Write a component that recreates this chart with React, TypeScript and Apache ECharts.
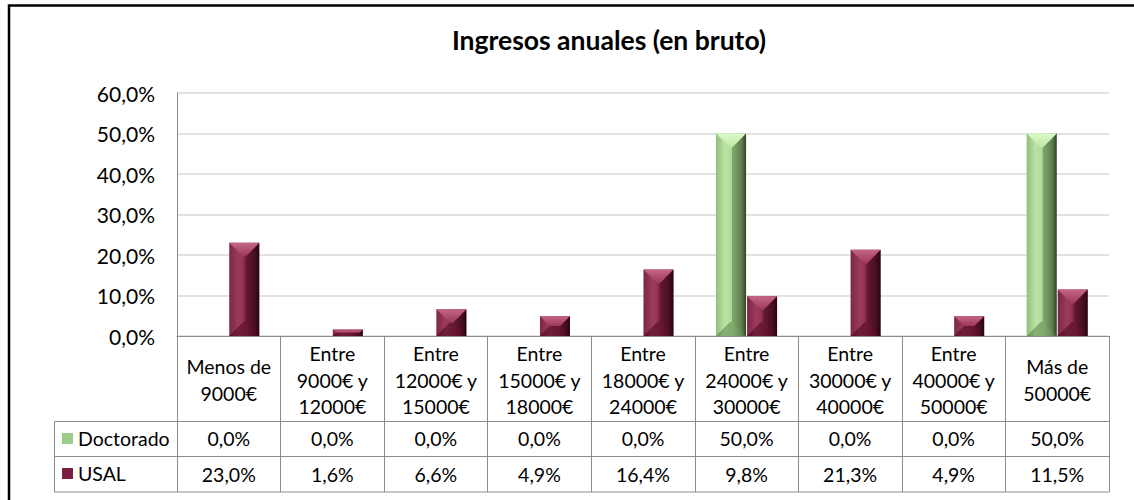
import React, { useEffect, useRef } from "react";
import * as echarts from "echarts";

const categories = [
  "Menos de\n9000€",
  "Entre\n9000€ y\n12000€",
  "Entre\n12000€ y\n15000€",
  "Entre\n15000€ y\n18000€",
  "Entre\n18000€ y\n24000€",
  "Entre\n24000€ y\n30000€",
  "Entre\n30000€ y\n40000€",
  "Entre\n40000€ y\n50000€",
  "Más de\n50000€",
];
const doctorado = [0, 0, 0, 0, 0, 50, 0, 0, 50];
const usal = [23.0, 1.6, 6.6, 4.9, 16.4, 9.8, 21.3, 4.9, 11.5];
const seriesNames = ["Doctorado", "USAL"];
const titleText = "Ingresos anuales (en bruto)";

const fmt = (v: number) => v.toFixed(1).replace(".", ",") + "%";
const FONT = "Lato, 'Open Sans', sans-serif";

const palettes: any = {
  green: {
    body: ["#8dba77", "#b6e29e", "#a8d690", "#7fa86a", "#3d5c33"],
    top: ["#dcfac8", "#bde8a4"],
    bottom: "rgba(50,80,40,0.35)",
    right: "rgba(0,0,0,0.25)",
    left: "rgba(255,255,255,0.06)",
  },
  maroon: {
    body: ["#74193a", "#962e53", "#8a2447", "#681332", "#3a0716"],
    top: ["#c46685", "#9a3858"],
    bottom: "rgba(40,0,15,0.35)",
    right: "rgba(0,0,0,0.3)",
    left: "rgba(255,255,255,0.06)",
  },
};

function makeRender(side: number, pal: any) {
  return (params: any, api: any) => {
    const idx = api.value(0);
    const v = api.value(1);
    if (!v) return { type: "group", children: [] };
    const top = api.coord([idx, v]);
    const base = api.coord([idx, 0]);
    const band = api.size([1, 0])[0];
    const w = band * 0.29;
    const gap = 0.5;
    const x = side < 0 ? top[0] - gap - w : top[0] + gap;
    const y = top[1];
    const h = base[1] - top[1];
    const d = Math.min(14, w / 2, h / 2);
    const b = pal.body;
    return {
      type: "group",
      children: [
        {
          type: "rect",
          shape: { x, y, width: w, height: h },
          style: {
            fill: {
              type: "linear", x: 0, y: 0, x2: 1, y2: 0,
              colorStops: [
                { offset: 0, color: b[0] },
                { offset: 0.3, color: b[1] },
                { offset: 0.6, color: b[2] },
                { offset: 0.85, color: b[3] },
                { offset: 1, color: b[4] },
              ],
            },
          },
        },
        {
          type: "polygon",
          shape: { points: [[x, y], [x + d, y + d], [x + d, y + h - d], [x, y + h]] },
          style: { fill: pal.left },
        },
        {
          type: "polygon",
          shape: { points: [[x + w, y], [x + w, y + h], [x + w - d, y + h - d], [x + w - d, y + d]] },
          style: { fill: pal.right },
        },
        {
          type: "polygon",
          shape: { points: [[x, y + h], [x + d, y + h - d], [x + w - d, y + h - d], [x + w, y + h]] },
          style: { fill: pal.bottom },
        },
        {
          type: "polygon",
          shape: { points: [[x, y], [x + w, y], [x + w - d, y + d], [x + d, y + d]] },
          style: {
            fill: {
              type: "linear", x: 0, y: 0, x2: 0, y2: 1,
              colorStops: [
                { offset: 0, color: pal.top[0] },
                { offset: 1, color: pal.top[1] },
              ],
            },
          },
        },
      ],
    };
  };
}

const GRID_LEFT = 177;
const GRID_RIGHT_X = 1109;
const GRID_TOP = 93;
const GRID_BOTTOM_Y = 336;
const TABLE_LEFT = 54.5;
const LINE = "#8c8c8c";

export default function App() {
  const ref = useRef<HTMLDivElement>(null);
  useEffect(() => {
    if (!ref.current) return;
    const chart = echarts.init(ref.current, undefined, { renderer: "svg" });
    const valueAxis = (labels: string[], margin: number) => ({
      type: "category",
      gridIndex: 0,
      position: "bottom",
      data: labels,
      axisLine: { show: false },
      axisTick: { show: false },
      axisLabel: {
        interval: 0,
        margin,
        verticalAlign: "middle",
        fontFamily: FONT,
        fontSize: 19.5,
        color: "#000",
      },
    });
    const rowLines = [421.5, 456.5, 492].map((yy) => ({
      type: "line",
      shape: { x1: TABLE_LEFT, y1: yy, x2: GRID_RIGHT_X, y2: yy },
      style: { stroke: LINE, lineWidth: 1 },
    }));
    chart.setOption({
      animation: false,
      backgroundColor: "#fff",
      grid: {
        left: GRID_LEFT,
        right: 1134 - GRID_RIGHT_X,
        top: GRID_TOP,
        bottom: 500 - GRID_BOTTOM_Y,
        containLabel: false,
      },
      legend: {
        orient: "vertical",
        left: 62,
        top: 428.5,
        padding: 0,
        itemGap: 15,
        itemWidth: 11,
        itemHeight: 11,
        icon: "rect",
        data: seriesNames,
        textStyle: { fontFamily: FONT, fontSize: 19.5, lineHeight: 20, color: "#000" },
        selectedMode: false,
      },
      xAxis: [
        {
          type: "category",
          gridIndex: 0,
          position: "bottom",
          data: categories,
          axisLine: { show: true, lineStyle: { color: LINE, width: 1 } },
          axisTick: { show: true, interval: 0, length: 156, lineStyle: { color: LINE, width: 1 } },
          axisLabel: {
            interval: 0,
            margin: 44,
            verticalAlign: "middle",
            lineHeight: 26.5,
            fontFamily: FONT,
            fontSize: 19.5,
            color: "#000",
          },
        },
        valueAxis(doctorado.map(fmt), 102.5),
        valueAxis(usal.map(fmt), 138),
      ],
      yAxis: {
        type: "value",
        min: 0,
        max: 60,
        interval: 10,
        axisLine: { show: true, lineStyle: { color: LINE, width: 1 } },
        axisTick: { show: false },
        splitLine: { lineStyle: { color: "#d9d9d9", width: 1.5 } },
        axisLabel: {
          margin: 22,
          fontFamily: FONT,
          fontSize: 21,
          color: "#000",
          formatter: (v: number) => fmt(v),
        },
      },
      series: [
        {
          name: seriesNames[0],
          type: "custom",
          xAxisIndex: 0,
          renderItem: makeRender(-1, palettes.green),
          itemStyle: { color: "#9ccc85" },
          encode: { x: 0, y: 1 },
          data: doctorado.map((v, i) => [i, v]),
          z: 3,
        },
        {
          name: seriesNames[1],
          type: "custom",
          xAxisIndex: 0,
          renderItem: makeRender(1, palettes.maroon),
          itemStyle: { color: "#7d1d3f" },
          encode: { x: 0, y: 1 },
          data: usal.map((v, i) => [i, v]),
          z: 3,
        },
      ],
      graphic: [
        {
          type: "rect",
          shape: { x: 9, y: 5.5, width: 1400, height: 800 },
          style: { fill: "none", stroke: "#000", lineWidth: 2.5 },
          silent: true,
        },
        {
          type: "text",
          x: 609,
          y: 40,
          style: {
            text: titleText,
            align: "center",
            verticalAlign: "middle",
            fontFamily: FONT,
            fontWeight: "bold",
            fontSize: 26.5,
            fill: "#000",
          },
        },
        ...rowLines,
        {
          type: "line",
          shape: { x1: TABLE_LEFT, y1: 421.5, x2: TABLE_LEFT, y2: 492 },
          style: { stroke: LINE, lineWidth: 1 },
        },
      ],
    });
    return () => chart.dispose();
  }, []);
  return (
    <div
      ref={ref}
      style={{ position: "fixed", left: 0, top: 0, width: 1134, height: 500 }}
    />
  );
}
